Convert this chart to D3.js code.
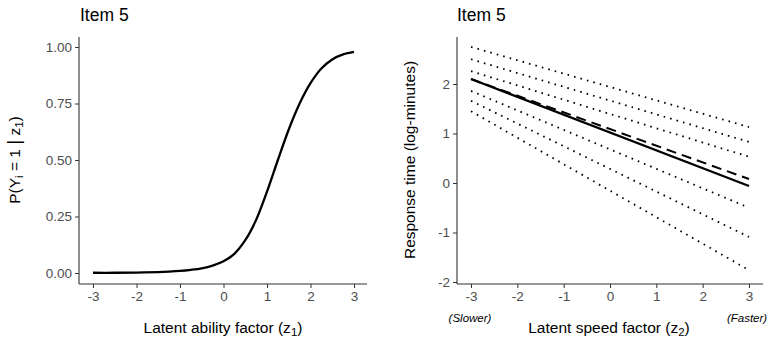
<!DOCTYPE html>
<html>
<head>
<meta charset="utf-8">
<style>
    body { margin: 0; background: #fff; }
    text { font-family: "Liberation Sans", Arial, sans-serif; }
</style>
</head>
<body>
<svg id="chart" width="771" height="339"></svg>
<script src="https://cdn.jsdelivr.net/npm/d3@7"></script>
<script>
    // left panel: item characteristic curve
    let abilityZ = [-3, -2.5, -2, -1.5, -1.25, -1, -0.75, -0.5, -0.25, 0, 0.25, 0.5, 0.75, 1, 1.25, 1.5, 1.75, 2, 2.25, 2.5, 2.75, 3];
    let probCorrect = [0.001, 0.001, 0.002, 0.004, 0.006, 0.009, 0.014, 0.021, 0.033, 0.052, 0.085, 0.145, 0.235, 0.36, 0.50, 0.635, 0.75, 0.84, 0.905, 0.945, 0.967, 0.978];
    let probTicks = [0, 0.25, 0.5, 0.75, 1];

    // right panel: response time lines (endpoints at z2 = -3 and 3)
    let speedZ = [-3, 3];
    let rtSolid = [2.10, -0.06];
    let rtDashed = [2.10, 0.08];
    let rtDotted = [
        [2.75, 1.13],
        [2.50, 0.83],
        [2.26, 0.53],
        [1.86, -0.50],
        [1.66, -1.09],
        [1.45, -1.76]
    ];
    let zTicks = [-3, -2, -1, 0, 1, 2, 3];
    let rtTicks = [-2, -1, 0, 1, 2];

    let svg = d3.select("#chart");
    let axisColor = "#333";
    let labelColor = "#4d4d4d";

    function styleAxis(g) {
        g.select(".domain").remove();
        g.selectAll(".tick line").attr("stroke", axisColor).attr("stroke-width", 1);
        g.selectAll(".tick text").attr("fill", labelColor).style("font-size", "13.5px")
            .style("font-family", "'Liberation Sans', Arial, sans-serif");
    }

    // plain hyphen for negatives, like the reference
    let intFmt = (d) => String(d);

    function drawFrame(x, xr, yr) {
        // L-shaped axis lines like ggplot's theme_classic
        svg.append("line")
            .attr("x1", xr[0]).attr("x2", xr[0])
            .attr("y1", yr[0]).attr("y2", yr[1])
            .attr("stroke", axisColor).attr("stroke-width", 1.1);
        svg.append("line")
            .attr("x1", xr[0]).attr("x2", xr[1])
            .attr("y1", yr[0]).attr("y2", yr[0])
            .attr("stroke", axisColor).attr("stroke-width", 1.1);

        svg.append("g")
            .attr("transform", `translate(0, ${yr[0]})`)
            .call(d3.axisBottom(x).tickValues(zTicks).tickSize(4).tickPadding(3).tickFormat(intFmt))
            .call(styleAxis);
    }

    // ---------- left panel ----------
    let x1 = d3.scaleLinear().domain([-3, 3]).range([93, 354]);
    let y1 = d3.scaleLinear().domain([0, 1]).range([273, 47]);
    drawFrame(x1, [79, 367], [284, 37]);
    svg.append("g")
        .attr("transform", "translate(79, 0)")
        .call(d3.axisLeft(y1).tickValues(probTicks).tickSize(4).tickPadding(3).tickFormat(d3.format(".2f")))
        .call(styleAxis);

    let curve = d3.line()
        .x((d, i) => x1(abilityZ[i]))
        .y((d) => y1(d))
        .curve(d3.curveCatmullRom.alpha(0.5));
    svg.append("path")
        .attr("d", curve(probCorrect))
        .attr("fill", "none")
        .attr("stroke", "#000")
        .attr("stroke-width", 2.3);

    svg.append("text").attr("x", 80).attr("y", 21)
        .style("font-size", "17.5px").attr("fill", "#000").text("Item 5");

    let xl1 = svg.append("text").attr("x", 223).attr("y", 333)
        .attr("text-anchor", "middle").style("font-size", "15.5px").attr("fill", "#000");
    xl1.append("tspan").text("Latent ability factor (z");
    xl1.append("tspan").attr("baseline-shift", "-25%").style("font-size", "11.5px").text("1");
    xl1.append("tspan").text(")");

    let yl1 = svg.append("text")
        .attr("transform", "translate(20, 160) rotate(-90)")
        .attr("text-anchor", "middle").style("font-size", "15.5px").attr("fill", "#000");
    yl1.append("tspan").text("P(Y");
    yl1.append("tspan").attr("baseline-shift", "-25%").style("font-size", "11.5px").text("i");
    yl1.append("tspan").text(" = 1 ");
    yl1.append("tspan").style("font-size", "19px").text("|");
    yl1.append("tspan").text(" z");
    yl1.append("tspan").attr("baseline-shift", "-25%").style("font-size", "11.5px").text("1");
    yl1.append("tspan").text(")");

    // ---------- right panel ----------
    let x2 = d3.scaleLinear().domain([-3, 3]).range([471, 749]);
    let y2 = d3.scaleLinear().domain([0, 2]).range([183, 84]);
    drawFrame(x2, [457, 763], [284, 37]);
    svg.append("g")
        .attr("transform", "translate(457, 0)")
        .call(d3.axisLeft(y2).tickValues(rtTicks).tickSize(4).tickPadding(3).tickFormat(intFmt))
        .call(styleAxis);

    let seg = d3.line()
        .x((d, i) => x2(speedZ[i]))
        .y((d) => y2(d));

    svg.selectAll(".dotted").data(rtDotted).enter()
        .append("path")
        .attr("class", "dotted")
        .attr("d", (d) => seg(d))
        .attr("fill", "none")
        .attr("stroke", "#000")
        .attr("stroke-width", 1.8)
        .attr("stroke-dasharray", "1.6,5.1");

    svg.append("path")
        .attr("d", seg(rtDashed))
        .attr("fill", "none")
        .attr("stroke", "#000")
        .attr("stroke-width", 2)
        .attr("stroke-dasharray", "10,6");

    svg.append("path")
        .attr("d", seg(rtSolid))
        .attr("fill", "none")
        .attr("stroke", "#000")
        .attr("stroke-width", 2.3);

    svg.append("text").attr("x", 457).attr("y", 21)
        .style("font-size", "17.5px").attr("fill", "#000").text("Item 5");

    let xl2 = svg.append("text").attr("x", 609).attr("y", 333)
        .attr("text-anchor", "middle").style("font-size", "15.5px").attr("fill", "#000");
    xl2.append("tspan").text("Latent speed factor (z");
    xl2.append("tspan").attr("baseline-shift", "-25%").style("font-size", "11.5px").text("2");
    xl2.append("tspan").text(")");

    svg.append("text").attr("x", 470).attr("y", 322)
        .attr("text-anchor", "middle").style("font-size", "11.5px").style("font-style", "italic")
        .attr("fill", "#000").text("(Slower)");
    svg.append("text").attr("x", 747).attr("y", 322)
        .attr("text-anchor", "middle").style("font-size", "11.5px").style("font-style", "italic")
        .attr("fill", "#000").text("(Faster)");

    svg.append("text")
        .attr("transform", "translate(415, 160) rotate(-90)")
        .attr("text-anchor", "middle").style("font-size", "15.5px").attr("fill", "#000")
        .text("Response time (log-minutes)");
</script>
</body>
</html>
